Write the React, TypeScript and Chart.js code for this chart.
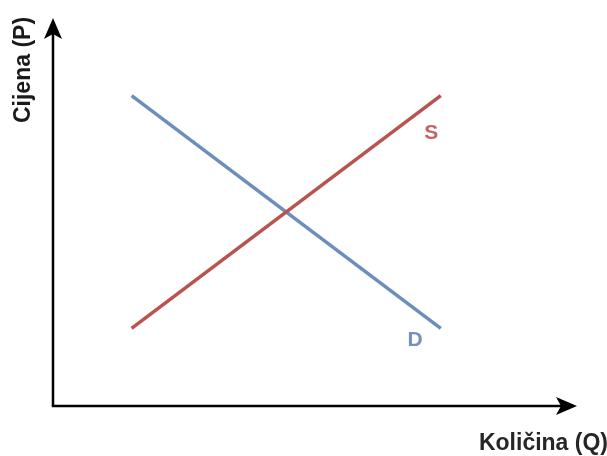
import React, { useEffect, useRef } from "react";
import { Chart, registerables } from "chart.js";

Chart.register(...registerables);

const demandX = [1.5, 7.4];
const demandY = [8.0, 2.0];
const supplyX = [1.5, 7.4];
const supplyY = [2.0, 8.0];
const seriesNames = ["S", "D"];
const seriesColors = ["#b85450", "#6c8ebf"];
const labelColors = ["#c0646a", "#7890b8"];
const labelAnchorX = [7.22, 6.91];
const labelAnchorY = [7.06, 1.73];
const yTitle = "Cijena (P)";
const xTitle = "Količina (Q)";

const arrowPlugin = {
  id: "econAxes",
  afterDatasetsDraw(chart: any) {
    const { ctx, chartArea, scales } = chart;
    const { left, right, top, bottom } = chartArea;
    ctx.save();
    ctx.strokeStyle = "#000";
    ctx.fillStyle = "#000";
    ctx.lineWidth = 2.5;
    // y axis
    ctx.beginPath();
    ctx.moveTo(left, bottom);
    ctx.lineTo(left, top + 14);
    ctx.stroke();
    // x axis
    ctx.beginPath();
    ctx.moveTo(left - 1.2, bottom);
    ctx.lineTo(right - 14, bottom);
    ctx.stroke();
    // arrowheads
    ctx.beginPath();
    ctx.moveTo(left, top);
    ctx.lineTo(left + 9, top + 21);
    ctx.lineTo(left, top + 16);
    ctx.lineTo(left - 9, top + 21);
    ctx.closePath();
    ctx.fill();
    ctx.beginPath();
    ctx.moveTo(right, bottom);
    ctx.lineTo(right - 21, bottom - 9);
    ctx.lineTo(right - 16, bottom);
    ctx.lineTo(right - 21, bottom + 9);
    ctx.closePath();
    ctx.fill();

    // series labels
    ctx.font = "bold 21px 'Liberation Sans', Arial, sans-serif";
    ctx.textAlign = "center";
    ctx.textBaseline = "middle";
    seriesNames.forEach((n, i) => {
      ctx.fillStyle = labelColors[i];
      ctx.fillText(
        n,
        scales.x.getPixelForValue(labelAnchorX[i]),
        scales.y.getPixelForValue(labelAnchorY[i]) + 1
      );
    });

    // axis titles
    ctx.fillStyle = "#1a1a1a";
    ctx.font = "bold 23px 'Liberation Sans', Arial, sans-serif";
    ctx.save();
    ctx.translate(left - 29, top + 52);
    ctx.rotate(-Math.PI / 2);
    ctx.textAlign = "center";
    ctx.textBaseline = "middle";
    ctx.fillText(yTitle, 0, 0);
    ctx.restore();
    ctx.fillStyle = "#262626";
    ctx.font = "bold 23px 'Liberation Sans', Arial, sans-serif";
    ctx.textAlign = "right";
    ctx.textBaseline = "middle";
    ctx.fillText(xTitle, 608, bottom + 38);
    ctx.restore();
  },
};

export default function App() {
  const ref = useRef<HTMLCanvasElement>(null);
  useEffect(() => {
    if (!ref.current) return;
    const chart = new Chart(ref.current, {
      type: "line",
      data: {
        datasets: [
          {
            label: seriesNames[0],
            data: supplyX.map((x, i) => ({ x, y: supplyY[i] })),
            borderColor: seriesColors[0],
            borderWidth: 3.5,
            pointRadius: 0,
          },
          {
            label: seriesNames[1],
            data: demandX.map((x, i) => ({ x, y: demandY[i] })),
            borderColor: seriesColors[1],
            borderWidth: 3.5,
            pointRadius: 0,
          },
        ],
      },
      options: {
        animation: false,
        responsive: false,
        layout: { padding: { left: 53, top: 18, right: 30, bottom: 50 } },
        plugins: { legend: { display: false }, tooltip: { enabled: false } },
        scales: {
          x: { type: "linear", min: 0, max: 10, display: false },
          y: { type: "linear", min: 0, max: 10, display: false },
        },
      },
      plugins: [arrowPlugin],
    });
    return () => chart.destroy();
  }, []);
  return (
    <div style={{ position: "absolute", left: 0, top: 0, width: 607, height: 456, background: "#fff" }}>
      <canvas ref={ref} width={607} height={456} />
    </div>
  );
}
